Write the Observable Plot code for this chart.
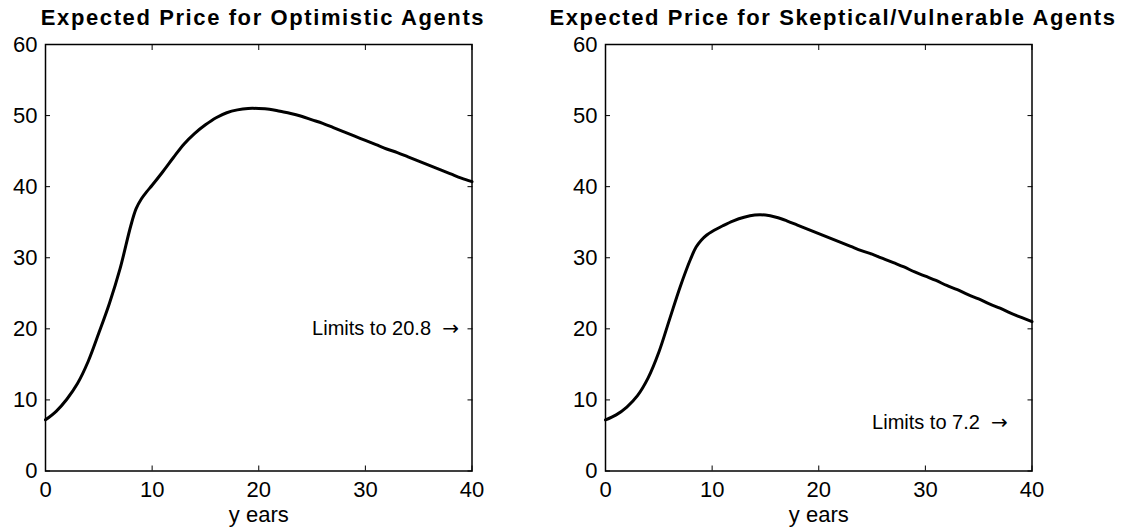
<!DOCTYPE html>
<html><head><meta charset="utf-8">
<script src="https://cdn.jsdelivr.net/npm/d3@7"></script>
<script src="https://cdn.jsdelivr.net/npm/@observablehq/plot@0.6"></script>
<style>
body{margin:0;background:#fff;}
#root{position:relative;width:1121px;height:531px;background:#fff;font-family:"Liberation Sans",Arial,Helvetica,sans-serif;}
.panel{position:absolute;top:0;}
.title{position:absolute;top:7px;font-weight:bold;font-size:22px;line-height:1;letter-spacing:1.6px;white-space:nowrap;transform:translateX(-50%);color:#000;}
</style></head><body><div id="root"></div>
<script>
// ---- data ----
const titles = ["Expected Price for Optimistic Agents", "Expected Price for Skeptical/Vulnerable Agents"];
const xLabel = "y ears";
const xTicks = [0, 10, 20, 30, 40];
const yTicks = [0, 10, 20, 30, 40, 50, 60];
const years = [0,1,2,3,4,5,6,7,8,8.5,9,9.5,10,11,12,13,14,15,16,17,18,19,20,21,22,23,24,25,26,27,28,29,30,31,32,33,34,35,36,37,38,39,40];
const optimistic = [7.2,8.4,10.1,12.3,15.4,19.4,23.6,28.5,34.5,36.9,38.3,39.3,40.2,42.1,44.1,46.0,47.5,48.7,49.7,50.4,50.8,51.0,51.0,50.9,50.6,50.3,49.9,49.4,48.9,48.3,47.7,47.1,46.5,45.9,45.3,44.8,44.2,43.6,43.0,42.4,41.8,41.2,40.7];
const skeptical = [7.2,7.9,9.0,10.6,13.1,16.7,21.3,25.9,29.9,31.5,32.5,33.2,33.7,34.5,35.2,35.7,36.0,36.0,35.7,35.2,34.6,34.0,33.4,32.8,32.2,31.6,31.0,30.5,29.9,29.3,28.7,28.0,27.4,26.8,26.1,25.5,24.8,24.2,23.5,22.9,22.2,21.6,21.0];
const limitLabels = ["Limits to 20.8", "Limits to 7.2"];
const arrow = "\u2192";
const limitX = [25, 25];
const limitY = [20, 6.8];
const titleCenters = [263, 833];

const series = [optimistic, skeptical];
const root = document.getElementById("root");
const font = '"Liberation Sans", Arial, Helvetica, sans-serif';

series.forEach((vals, i) => {
  const data = years.map((t, j) => ({t, v: vals[j]}));
  const ann = [{x: limitX[i], y: limitY[i], label: limitLabels[i] + "\u00a0\u00a0" + arrow}];
  const chart = Plot.plot({
    width: 560, height: 531,
    marginLeft: 45, marginRight: 88.5, marginTop: 44, marginBottom: 60.5,
    x: {domain: [0, 40]},
    y: {domain: [0, 60]},
    style: {fontFamily: font, fontSize: "22px", color: "#000", background: "transparent", overflow: "visible"},
    marks: [
      Plot.axisX(xTicks, {anchor: "bottom", tickSize: 0, tickPadding: 10, fontSize: 22, label: null}),
      Plot.axisY(yTicks, {anchor: "left", tickSize: 0, tickPadding: 8, fontSize: 22, label: null}),
      Plot.axisX(xTicks, {anchor: "bottom", tickSize: 5, dy: -5, tickFormat: () => "", label: null, strokeWidth: 1}),
      Plot.axisX(xTicks, {anchor: "top", tickSize: 5, dy: 5, tickFormat: () => "", label: null, strokeWidth: 1}),
      Plot.axisY(yTicks, {anchor: "left", tickSize: 5, dx: 5, tickFormat: () => "", label: null, strokeWidth: 1}),
      Plot.axisY(yTicks, {anchor: "right", tickSize: 5, dx: -5, tickFormat: () => "", label: null, strokeWidth: 1}),
      Plot.frame({stroke: "#000", strokeWidth: 1.5}),
      Plot.line(data, {x: "t", y: "v", stroke: "#000", strokeWidth: 3, curve: "catmull-rom"}),
      Plot.text(ann, {x: "x", y: "y", text: "label", textAnchor: "start", fontSize: 20, fill: "#000"}),
      Plot.text([xLabel], {frameAnchor: "bottom", dy: 51, fontSize: 22, fill: "#000"})
    ]
  });
  d3.select(chart).selectAll("text").each(function() {
    const s = this.textContent;
    if (s.includes(arrow)) {
      const parts = s.split(arrow);
      const sel = d3.select(this);
      sel.text(parts[0]);
      sel.append("tspan").attr("font-family", '"DejaVu Sans", sans-serif').attr("font-size", 20).text(arrow);
    }
  });
  const wrap = document.createElement("div");
  wrap.className = "panel";
  wrap.style.left = (i * 560) + "px";
  wrap.appendChild(chart);
  root.appendChild(wrap);

  const t = document.createElement("div");
  t.className = "title";
  t.textContent = titles[i];
  t.style.left = titleCenters[i] + "px";
  root.appendChild(t);
});
</script></body></html>
